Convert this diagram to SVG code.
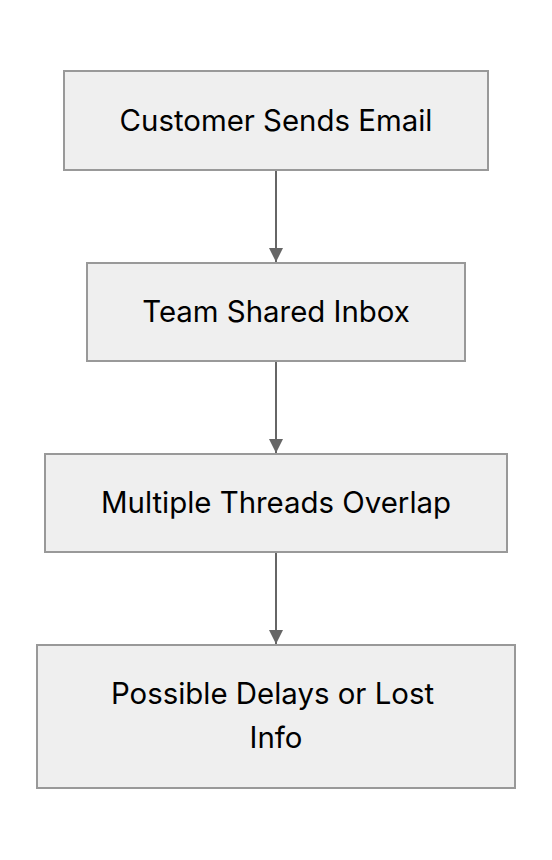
<svg xmlns="http://www.w3.org/2000/svg" width="552" height="860" viewBox="0 0 552 860">
<style>
.box{fill:#efefef;stroke:#999999;stroke-width:2}
.lbl{font-family:Inter,"Noto Sans",sans-serif;font-size:29.4px;fill:#000;text-anchor:middle}
.edge{stroke:#666666;stroke-width:2;fill:none}
</style>
<defs>
<marker id="arr" viewBox="0 0 10 10" refX="10" refY="5" markerWidth="7" markerHeight="7" markerUnits="strokeWidth" orient="auto">
<path d="M0,0 L10,5 L0,10 z" fill="#666666"/>
</marker>
</defs>
<rect width="552" height="860" fill="#ffffff"/>
<g id="edges">
<line class="edge" x1="276" y1="171" x2="276" y2="262" marker-end="url(#arr)"/>
<line class="edge" x1="276" y1="362" x2="276" y2="453" marker-end="url(#arr)"/>
<line class="edge" x1="276" y1="553" x2="276" y2="644" marker-end="url(#arr)"/>
</g>
<g id="n1">
<rect class="box" x="64" y="71" width="424" height="99"/>
<text class="lbl" x="276" y="131">Customer Sends Email</text>
</g>
<g id="n2">
<rect class="box" x="87" y="263" width="378" height="98"/>
<text class="lbl" x="276" y="322">Team Shared Inbox</text>
</g>
<g id="n3">
<rect class="box" x="45" y="454" width="462" height="98"/>
<text class="lbl" x="276" y="513">Multiple Threads Overlap</text>
</g>
<g id="n4">
<rect class="box" x="37" y="645" width="478" height="143"/>
<text class="lbl" x="272.5" y="704">Possible Delays or Lost</text>
<text class="lbl" x="276" y="748">Info</text>
</g>
</svg>
